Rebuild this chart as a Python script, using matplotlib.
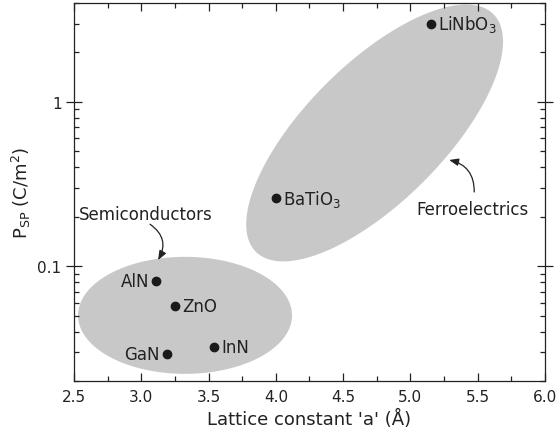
import matplotlib
matplotlib.use("Agg")
import matplotlib.pyplot as plt
import numpy as np
from matplotlib.ticker import FixedLocator, NullFormatter, MultipleLocator, LogLocator

# Data
materials = ['LiNbO$_3$', 'BaTiO$_3$', 'AlN', 'ZnO', 'GaN', 'InN']
lattice_a = [5.15, 4.00, 3.11, 3.25, 3.19, 3.54]
p_sp = [3.0, 0.26, 0.081, 0.057, 0.029, 0.032]
# label side: 1 = right of point, -1 = left
label_side = [1, 1, -1, 1, -1, 1]

# Group ellipses: center (a, P), semi-axes in pixels, rotation (deg)
ferro_center = (4.734, 0.647)
ferro_axes = (168, 69)
ferro_angle = 45
semi_center = (3.325, 0.0502)
semi_axes = (107, 58.5)
semi_angle = 0

plt.rcParams['font.family'] = 'DejaVu Sans'
plt.rcParams['mathtext.fontset'] = 'dejavusans'
ink = '#222222'

fig = plt.figure(figsize=(5.57, 4.39), dpi=100)
ax = fig.add_axes([74 / 557, 1 - 382 / 439, 471 / 557, 378 / 439])
ax.set_yscale('log')
ax.set_xlim(2.5, 6.0)
ax.set_ylim(0.02, 4.0)


def ellipse_fill(center, axes_px, angle):
    # build the ellipse in display space, then map it back to data space
    cx, cy = ax.transData.transform(center)
    t = np.linspace(0, 2 * np.pi, 400)
    th = np.deg2rad(angle)
    ex = axes_px[0] * np.cos(t)
    ey = axes_px[1] * np.sin(t)
    dx = cx + ex * np.cos(th) - ey * np.sin(th)
    dy = cy + ex * np.sin(th) + ey * np.cos(th)
    pts = ax.transData.inverted().transform(np.column_stack([dx, dy]))
    ax.fill(pts[:, 0], pts[:, 1], color='#c8c8c8', lw=0, zorder=1)


ellipse_fill(ferro_center, ferro_axes, ferro_angle)
ellipse_fill(semi_center, semi_axes, semi_angle)

ax.plot(lattice_a, p_sp, 'o', color='#1a1a1a', ms=6, zorder=3)
for name, xa, yp, side in zip(materials, lattice_a, p_sp, label_side):
    ax.annotate(name, (xa, yp), xytext=(5 * side, 0), textcoords='offset points',
                ha='left' if side > 0 else 'right', va='center', fontsize=12,
                color=ink, zorder=4)

# group labels with curved arrows
arrow_kw = dict(arrowstyle='-|>,head_length=0.55,head_width=0.22',
                color=ink, lw=0.9, shrinkA=0, shrinkB=0)
ax.text(3.035, 0.207, 'Semiconductors', ha='center', va='center',
        fontsize=12, color=ink)
ax.annotate('', xy=(3.125, 0.109), xytext=(3.065, 0.18),
            arrowprops=dict(connectionstyle='arc3,rad=-0.45', **arrow_kw))
ax.text(5.459, 0.223, 'Ferroelectrics', ha='center', va='center',
        fontsize=12, color=ink)
ax.annotate('', xy=(5.288, 0.443), xytext=(5.474, 0.283),
            arrowprops=dict(connectionstyle='arc3,rad=0.4', **arrow_kw))

# ticks
ax.xaxis.set_major_locator(MultipleLocator(0.5))
ax.xaxis.set_minor_locator(MultipleLocator(0.25))
ax.xaxis.set_major_formatter(plt.FuncFormatter(lambda v, p: f'{v:.1f}'))
ax.yaxis.set_major_locator(FixedLocator([0.1, 1]))
ax.yaxis.set_minor_locator(LogLocator(base=10, subs=np.arange(2, 10)))
ax.yaxis.set_minor_formatter(NullFormatter())
ax.yaxis.set_major_formatter(plt.FuncFormatter(lambda v, p: '1' if v >= 1 else '0.1'))
ax.tick_params(which='both', top=True, right=True, direction='in',
               labelsize=11, colors=ink, width=0.9)
ax.tick_params(which='major', length=6)
ax.tick_params(which='minor', length=3.5)
ax.tick_params(axis='y', which='major', left=True, direction='inout', length=11)
ax.tick_params(axis='y', which='major', right=True)
ax.tick_params(axis='x', pad=6)
for s in ax.spines.values():
    s.set_linewidth(0.9)
    s.set_color(ink)

ax.set_xlabel("Lattice constant 'a' (Å)", fontsize=13, color=ink, labelpad=3)
ax.set_ylabel(r'P$_{\rm SP}$ (C/m$^2$)', fontsize=13, color=ink, labelpad=3)

fig.savefig('out.png', dpi=100)
